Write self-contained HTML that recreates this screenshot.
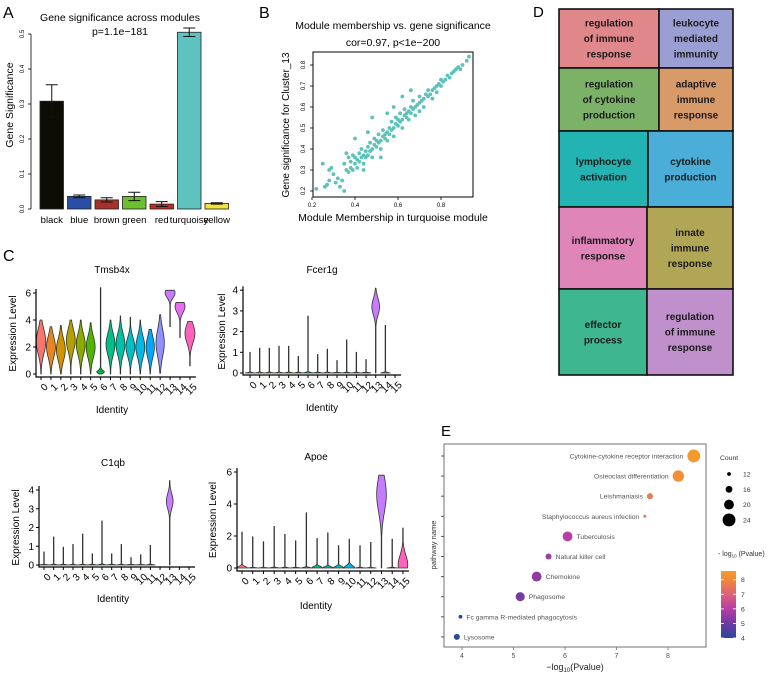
<!DOCTYPE html>
<html><head><meta charset="utf-8"><style>
html,body{margin:0;padding:0;background:#fff}
svg{display:block;font-family:"Liberation Sans",Arial,sans-serif}
</style></head><body>
<svg id="fig" width="777" height="674" viewBox="0 0 777 674" xmlns="http://www.w3.org/2000/svg"></svg>
<script>
// ---------- Panel A data ----------
const modules = ['black','blue','brown','green','red','turquoise','yellow'];
const moduleGS = [0.308,0.036,0.026,0.036,0.014,0.505,0.016];
const moduleErr = [0.047,0.004,0.006,0.012,0.007,0.012,0.002];
const moduleFill = ['#0d0d05','#2a4ea6','#a8312d','#6cbf2e','#c42a22','#5ec3be','#f2e23a'];
const gsTicks = [0.0,0.1,0.2,0.3,0.4,0.5];
// ---------- Panel B data ----------
const mmX = [0.22,0.25,0.26,0.27,0.28,0.28,0.29,0.30,0.31,0.32,0.33,0.34,0.35,0.35,0.36,0.36,0.37,0.37,0.38,0.38,0.39,0.39,0.40,0.40,0.41,0.41,0.42,0.42,0.43,0.43,0.44,0.44,0.45,0.45,0.46,0.46,0.47,0.47,0.48,0.48,0.49,0.49,0.50,0.50,0.51,0.51,0.52,0.52,0.53,0.53,0.54,0.54,0.55,0.55,0.56,0.56,0.57,0.57,0.58,0.58,0.59,0.59,0.60,0.60,0.61,0.61,0.62,0.62,0.63,0.63,0.64,0.64,0.65,0.65,0.66,0.66,0.67,0.67,0.68,0.68,0.69,0.70,0.70,0.71,0.72,0.72,0.73,0.74,0.74,0.75,0.76,0.76,0.77,0.78,0.78,0.79,0.80,0.80,0.81,0.82,0.83,0.84,0.85,0.86,0.87,0.88,0.89,0.90,0.92,0.93,0.48,0.40,0.55,0.62,0.52,0.58,0.44,0.70,0.66,0.46];
const gsY = [0.21,0.33,0.22,0.23,0.25,0.30,0.31,0.28,0.24,0.26,0.22,0.25,0.20,0.33,0.38,0.30,0.29,0.36,0.31,0.34,0.30,0.37,0.33,0.36,0.31,0.35,0.38,0.34,0.36,0.40,0.37,0.33,0.39,0.36,0.41,0.37,0.39,0.43,0.40,0.36,0.42,0.45,0.41,0.44,0.43,0.47,0.44,0.40,0.46,0.49,0.45,0.47,0.48,0.44,0.50,0.47,0.49,0.53,0.50,0.46,0.52,0.55,0.51,0.54,0.53,0.57,0.54,0.50,0.56,0.59,0.55,0.57,0.58,0.54,0.60,0.57,0.59,0.63,0.60,0.56,0.61,0.62,0.65,0.63,0.64,0.60,0.66,0.65,0.68,0.66,0.68,0.64,0.69,0.70,0.67,0.71,0.70,0.73,0.72,0.73,0.75,0.74,0.76,0.77,0.78,0.79,0.78,0.80,0.82,0.84,0.55,0.45,0.57,0.65,0.36,0.60,0.30,0.58,0.68,0.48];
const bXTicks = [0.2,0.4,0.6,0.8];
const bYTicks = [0.2,0.3,0.4,0.5,0.6,0.7,0.8];
// ---------- Panel C data (violins) ----------
const clusters = ['0','1','2','3','4','5','6','7','8','9','10','11','12','13','14','15'];
const tmsbMax  = [4.0,3.5,3.6,4.0,4.0,3.8,6.4,4.0,4.3,4.2,4.0,3.3,4.4,6.2,5.3,3.9];
const tmsbMin  = [0,0,0,0,0,0,0,0,0,0,0,0,0.05,3.5,2.7,0.6];
const tmsbMode = [2.4,2.0,1.8,2.5,2.2,2.0,0.15,2.2,2.2,2.0,2.0,2.0,2.3,6.0,5.0,3.0];
const tmsbWid  = [0.48,0.45,0.45,0.45,0.45,0.45,0.4,0.45,0.45,0.45,0.45,0.42,0.42,0.5,0.5,0.5];
const tmsbSd   = [0.9,0.8,0.8,0.8,0.8,0.8,0.12,0.8,0.8,0.7,0.8,0.8,1.0,0.35,0.45,0.7];
const fcerMax  = [1.0,1.2,1.2,1.3,1.3,0.8,2.75,0.9,1.15,0.6,1.6,1.0,0.65,4.1,2.3,0];
const fcerMode = [0,0,0,0,0,0,0,0,0,0,0,0,0,3.2,0,0];
const fcerWid  = [0.5,0.5,0.5,0.5,0.5,0.5,0.5,0.5,0.5,0.5,0.5,0.5,0.5,0.4,0.5,0.5];
const fcerSd   = [0.02,0.02,0.02,0.02,0.02,0.02,0.02,0.02,0.02,0.02,0.02,0.02,0.02,0.4,0.02,0.02];
const c1qbMax  = [0.7,1.5,0.95,1.1,1.65,0.6,2.35,0.6,1.1,0.4,0.55,1.05,0.02,4.5,0.02,0.02];
const c1qbMode = [0,0,0,0,0,0,0,0,0,0,0,0,0,3.4,0,0];
const c1qbWid  = [0.5,0.5,0.5,0.5,0.5,0.5,0.5,0.5,0.5,0.5,0.5,0.5,0.5,0.35,0.5,0.5];
const c1qbSd   = [0.02,0.02,0.02,0.02,0.02,0.02,0.02,0.02,0.02,0.02,0.02,0.02,0.02,0.4,0.02,0.02];
const apoeMax  = [2.25,1.95,1.65,2.6,2.1,1.7,3.45,1.85,2.2,1.4,1.8,1.4,1.6,5.8,1.8,2.5];
const apoeMode = [0,0,0,0,0,0,0,0,0,0,0,0,0,4.6,0,0.2];
const apoeWid  = [0.5,0.5,0.5,0.5,0.5,0.5,0.5,0.5,0.5,0.5,0.5,0.5,0.5,0.45,0.5,0.45];
const apoeSd   = [0.1,0.02,0.02,0.02,0.02,0.02,0.02,0.1,0.08,0.1,0.15,0.02,0.02,1.1,0.02,0.6];
// ---------- Panel D data ----------
const goTerms = [['regulation','of immune','response'],['leukocyte','mediated','immunity'],['regulation','of cytokine','production'],['adaptive','immune','response'],['lymphocyte','activation'],['cytokine','production'],['inflammatory','response'],['innate','immune','response'],['effector','process'],['regulation','of immune','response']];
const goFill = ['#e0878b','#9b9ed2','#7cb268','#d99a6a','#24b3b3','#4aaed8','#e085b8','#b1a656','#3eb690','#bf90cb'];
// ---------- Panel E data ----------
const pathways = ['Cytokine-cytokine receptor interaction','Osteoclast differentiation','Leishmaniasis','Staphylococcus aureus infection','Tuberculosis','Natural killer cell','Chemokine','Phagosome','Fc gamma R-mediated phagocytosis','Lysosome'];
const pathLogP = [8.5,8.2,7.65,7.55,6.05,5.68,5.45,5.13,3.97,3.9];
const pathCount = [24,22,15,11,20,15,20,19,12,15];
const eXTicks = [4,5,6,7,8];
const countLegend = [12,16,20,24];
const colorTicks = [4,5,6,7,8];

const svg = document.getElementById('fig');
const NS = 'http://www.w3.org/2000/svg';
function mk(tag, attrs, parent){const e=document.createElementNS(NS,tag);for(const k in attrs)e.setAttribute(k,attrs[k]);(parent||svg).appendChild(e);return e;}
function txt(s, attrs, parent){const e=mk('text',attrs,parent);e.textContent=s;return e;}
function grp(name){const g=mk('g',{});return g;}

// ===== Panel A =====
(function(){
  const g = grp('panel-a');
  const lbl = txt('A',{x:3,y:18,'font-size':16},g);
  
  
  const t1 = txt('Gene significance across modules',{x:120,y:21,'font-size':10.5,'text-anchor':'middle'},g);
  
  
  const t2 = txt('p=1.1e\u2212181',{x:120,y:35,'font-size':10.5,'text-anchor':'middle'},g);
  
  
  const y0=209, k=350;
  const Y = v => y0 - v*k;
  const ax = mk('line',{x1:31,y1:Y(0),x2:31,y2:Y(0.5),stroke:'#000','stroke-width':0.8},g);
  
  
  gsTicks.forEach(v=>{
    mk('line',{x1:28,x2:31,y1:Y(v),y2:Y(v),stroke:'#000','stroke-width':0.8},g);
    const tl = txt(v.toFixed(1),{x:24,y:Y(v),'font-size':6,'text-anchor':'middle',transform:`rotate(-90 24 ${Y(v)})`},g);
    
    
  });
  const yt = txt('Gene Significance',{x:13,y:105,'font-size':10.5,'text-anchor':'middle',transform:'rotate(-90 13 105)'},g);
  
  
  const bx0=40, step=27.5, bw=23.5;
  modules.forEach((m,i)=>{
    const x=bx0+i*step;
    const b = mk('rect',{x:x,y:Y(moduleGS[i]),width:bw,height:moduleGS[i]*k,fill:moduleFill[i],stroke:'#222','stroke-width':0.8},g);
    
    
    const cx=x+bw/2, hi=Y(moduleGS[i]+moduleErr[i]), lo=Y(moduleGS[i]-moduleErr[i]);
    const e = mk('path',{d:`M${cx},${lo}V${hi}M${cx-6},${hi}H${cx+6}M${cx-6},${lo}H${cx+6}`,stroke:'#111','stroke-width':1,fill:'none'},g);
    
    
    const xl = txt(m,{x:cx,y:223,'font-size':9.5,'text-anchor':'middle'},g);
    
    
  });
})();

// ===== Panel B =====
(function(){
  const g = grp('panel-b');
  const lbl = txt('B',{x:259,y:18,'font-size':16},g);
  
  
  const t1 = txt('Module membership vs. gene significance',{x:393,y:29,'font-size':10.5,'text-anchor':'middle'},g);
  
  
  const t2 = txt('cor=0.97, p<1e\u2212200',{x:393,y:46,'font-size':10.5,'text-anchor':'middle'},g);
  
  
  const X = v => 312 + (v-0.2)*215;
  const Y = v => 191 - (v-0.2)*210;
  const box = mk('rect',{x:313,y:52,width:160,height:145,fill:'none',stroke:'#000','stroke-width':1},g);
  
  
  bXTicks.forEach(v=>{
    mk('line',{x1:X(v),x2:X(v),y1:197,y2:200,stroke:'#000','stroke-width':0.8},g);
    const tl=txt(v.toFixed(1),{x:X(v),y:207,'font-size':6,'text-anchor':'middle'},g);
    
    
  });
  bYTicks.forEach(v=>{
    mk('line',{x1:310,x2:313,y1:Y(v),y2:Y(v),stroke:'#000','stroke-width':0.8},g);
    const tl=txt(v.toFixed(1),{x:305,y:Y(v),'font-size':6,'text-anchor':'middle',transform:`rotate(-90 305 ${Y(v)})`},g);
    
    
  });
  mmX.forEach((v,i)=>{
    const p = mk('circle',{cx:X(v),cy:Y(gsY[i]),r:1.9,fill:'#5cc2ba'},g);
    
    
  });
  const xt = txt('Module Membership in turquoise module',{x:393,y:221,'font-size':10.5,'text-anchor':'middle'},g);
  
  
  const yt = txt('Gene significance for Cluster_13',{x:289,y:125,'font-size':10,'text-anchor':'middle',transform:'rotate(-90 289 125)'},g);
  
  
})();

// ===== Panel C =====
const palette = ['#F8766D','#E8851E','#D09400','#B2A100','#8BAB00','#50B400','#00BC3D','#00C085','#00C1A7','#00BFC4','#00B8E3','#00A8FF','#8F91FF','#C77CFF','#E76BF3','#FF62BC'];
function violinPanel(name, title, cfg, maxs, mins, modes, wids, sds){
  const g = grp('violin-'+name);
  const Y = v => cfg.y0 - v*cfg.k;
  const X = i => cfg.x0 + i*cfg.sp;
  const tt = txt(title,{x:cfg.tx,y:cfg.ty,'font-size':10,'text-anchor':'middle'},g);
  
  
  clusters.forEach((c,i)=>{
    const mx=maxs[i], mn=mins?mins[i]:0;
    if(mx<=mn+0.03) return;
    const hw=wids[i]*cfg.sp, n=40, R=[], L=[];
    for(let j=0;j<=n;j++){
      const v=mn+(mx-mn)*j/n;
      const w=Math.max(0.25,hw*Math.exp(-0.5*Math.pow((v-modes[i])/sds[i],2)));
      R.push(`${(X(i)+w).toFixed(2)},${Y(v).toFixed(2)}`);
      L.unshift(`${(X(i)-w).toFixed(2)},${Y(v).toFixed(2)}`);
    }
    const p = mk('path',{d:'M'+R.join('L')+'L'+L.join('L')+'Z',fill:palette[i],stroke:'#333','stroke-width':0.8,'stroke-linejoin':'round'},g);
    
    
  });
  const ax = mk('path',{d:`M${cfg.ax},${Y(cfg.top)-4}V${cfg.xy}H${X(15)+6}`,stroke:'#000','stroke-width':1.2,fill:'none'},g);
  
  
  cfg.ticks.forEach(v=>{
    mk('line',{x1:cfg.ax-3,x2:cfg.ax,y1:Y(v),y2:Y(v),stroke:'#000','stroke-width':1},g);
    const tl=txt(String(v),{x:cfg.ax-5,y:Y(v)+3.5,'font-size':10,'text-anchor':'end'},g);
    
    
  });
  clusters.forEach((c,i)=>{
    mk('line',{x1:X(i),x2:X(i),y1:cfg.xy,y2:cfg.xy+3,stroke:'#000','stroke-width':1},g);
    const lx=X(i)+3, ly=cfg.xy+6;
    const tl=txt(c,{x:lx,y:ly,'font-size':10,'text-anchor':'end','dominant-baseline':'hanging',transform:`rotate(-45 ${lx} ${ly})`},g);
    
    
  });
  const xt=txt('Identity',{x:cfg.tx,y:cfg.idy,'font-size':10,'text-anchor':'middle'},g);
  
  
  const yc=cfg.y0-cfg.top*cfg.k/2;
  const yt=txt('Expression Level',{x:cfg.ylx,y:yc,'font-size':10,'text-anchor':'middle',transform:`rotate(-90 ${cfg.ylx} ${yc})`},g);
  
  
}
(function(){
  const lc = txt('C',{x:3,y:261,'font-size':16});
  
  
})();
violinPanel('tmsb4x','Tmsb4x',{x0:41,sp:9.93,y0:374,k:13.5,ax:36,xy:377,top:6,ticks:[0,2,4,6],tx:112,ty:273,idy:413,ylx:16},tmsbMax,tmsbMin,tmsbMode,tmsbWid,tmsbSd);
violinPanel('fcer1g','Fcer1g',{x0:250,sp:9.67,y0:373,k:20.7,ax:243,xy:375,top:4,ticks:[0,1,2,3,4],tx:322,ty:273,idy:411,ylx:225},fcerMax,null,fcerMode,fcerWid,fcerSd);
violinPanel('c1qb','C1qb',{x0:44,sp:9.67,y0:565,k:18.75,ax:39,xy:567,top:4,ticks:[0,1,2,3,4],tx:113,ty:466,idy:602,ylx:19},c1qbMax,null,c1qbMode,c1qbWid,c1qbSd);
violinPanel('apoe','Apoe',{x0:242,sp:10.73,y0:568,k:16,ax:237,xy:571,top:6,ticks:[0,2,4,6],tx:316,ty:460,idy:609,ylx:216},apoeMax,null,apoeMode,apoeWid,apoeSd);

// ===== Panel D =====
(function(){
  const g = grp('panel-d');
  const lbl = txt('D',{x:533,y:17,'font-size':15},g);
  
  
  const rows=[[9,68,659],[68,131,659],[131,207,648],[207,289,647],[289,375,647]];
  const L=559,Rr=733;
  rows.forEach((r,ri)=>{
    [[L,r[2]],[r[2],Rr]].forEach((c,ci)=>{
      const idx=ri*2+ci;
      const rc=mk('rect',{x:c[0],y:r[0],width:c[1]-c[0],height:r[1]-r[0],fill:goFill[idx],stroke:'#111','stroke-width':1.6},g);
      
      
      const lines=goTerms[idx], cx=(c[0]+c[1])/2, cy=(r[0]+r[1])/2, lh=15.5;
      lines.forEach((s,li)=>{
        const t=txt(s,{x:cx,y:cy+(li-(lines.length-1)/2)*lh+3.5,'font-size':10,'font-weight':'bold','text-anchor':'middle',fill:'#1a1a1a'},g);
        
        
      });
    });
  });
})();

// ===== Panel E =====
(function(){
  const g = grp('panel-e');
  const lbl = txt('E',{x:441,y:436,'font-size':15},g);
  
  
  const X = v => 462 + (v-4)*51.5;
  const Y = i => 456 + i*20.1;
  const R = c => 1.5 + (c-11)*0.38;
  const stops=[[4,[44,70,160]],[5,[110,58,160]],[6,[180,62,165]],[7,[224,96,122]],[8,[240,136,58]],[8.6,[245,158,42]]];
  function col(v){
    if(v<=stops[0][0])return `rgb(${stops[0][1]})`;
    for(let i=1;i<stops.length;i++){if(v<=stops[i][0]){const a=stops[i-1],b=stops[i],t=(v-a[0])/(b[0]-a[0]);return 'rgb('+a[1].map((q,j)=>Math.round(q+(b[1][j]-q)*t)).join(',')+')';}}
    return `rgb(${stops[stops.length-1][1]})`;
  }
  const box=mk('rect',{x:444,y:444,width:262,height:203,fill:'#fff',stroke:'#888','stroke-width':1.2},g);
  
  
  eXTicks.forEach(v=>{
    mk('line',{x1:X(v),x2:X(v),y1:647,y2:650,stroke:'#888'},g);
    const tl=txt(String(v),{x:X(v),y:658,'font-size':7,'text-anchor':'middle',fill:'#555'},g);
    
    
  });
  pathways.forEach((p,i)=>{
    mk('line',{x1:441,x2:444,y1:Y(i),y2:Y(i),stroke:'#555'},g);
    const cx=X(pathLogP[i]), r=R(pathCount[i]);
    const c=mk('circle',{cx:cx,cy:Y(i),r:r,fill:col(pathLogP[i])},g);
    
    
    const left=i<4;
    const t=txt(p,{x:left?cx-r-4:cx+r+4,y:Y(i)+2.5,'font-size':6.8,'text-anchor':left?'end':'start',fill:'#555'},g);
    
    
  });
  const xt=mk('text',{x:575,y:670,'font-size':9,'text-anchor':'middle',fill:'#222'},g);
  xt.innerHTML='\u2212log<tspan font-size="6" dy="2">10</tspan><tspan dy="-2">(Pvalue)</tspan>';
  
  
  const yt=txt('pathway name',{x:436,y:545,'font-size':7.5,'text-anchor':'middle',fill:'#333',transform:'rotate(-90 436 545)'},g);
  
  
  const lt=txt('Count',{x:720,y:460,'font-size':6.8,fill:'#333'},g);
  
  
  countLegend.forEach((c,i)=>{
    const y=474+i*15.3;
    const d=mk('circle',{cx:729,cy:y,r:R(c),fill:'#000'},g);
    
    
    const t=txt(String(c),{x:743,y:y+2.5,'font-size':6.8,fill:'#333'},g);
    
    
  });
  const ct=mk('text',{x:718,y:556,'font-size':7,fill:'#333'},g);
  ct.innerHTML='- log<tspan font-size="4.5" dy="1.5">10</tspan><tspan dy="-1.5"> (Pvalue)</tspan>';
  
  
  const defs=mk('defs',{},svg);
  const lg=mk('linearGradient',{id:'cbar',x1:0,y1:1,x2:0,y2:0},defs);
  const cy = v => 638 - (v-4)*(638-571)/(8.6-4);
  stops.forEach(s=>mk('stop',{offset:(s[0]-4)/4.6,'stop-color':`rgb(${s[1]})`},lg));
  const cb=mk('rect',{x:721,y:cy(8.6),width:15,height:cy(4)-cy(8.6),fill:'url(#cbar)'},g);
  
  
  colorTicks.forEach(v=>{
    mk('line',{x1:721,x2:724,y1:cy(v),y2:cy(v),stroke:'#fff','stroke-width':0.8},g);
    mk('line',{x1:733,x2:736,y1:cy(v),y2:cy(v),stroke:'#fff','stroke-width':0.8},g);
    const t=txt(String(v),{x:741,y:cy(v)+2.5,'font-size':6.8,fill:'#333'},g);
    
    
  });
})();
</script>
</body></html>
